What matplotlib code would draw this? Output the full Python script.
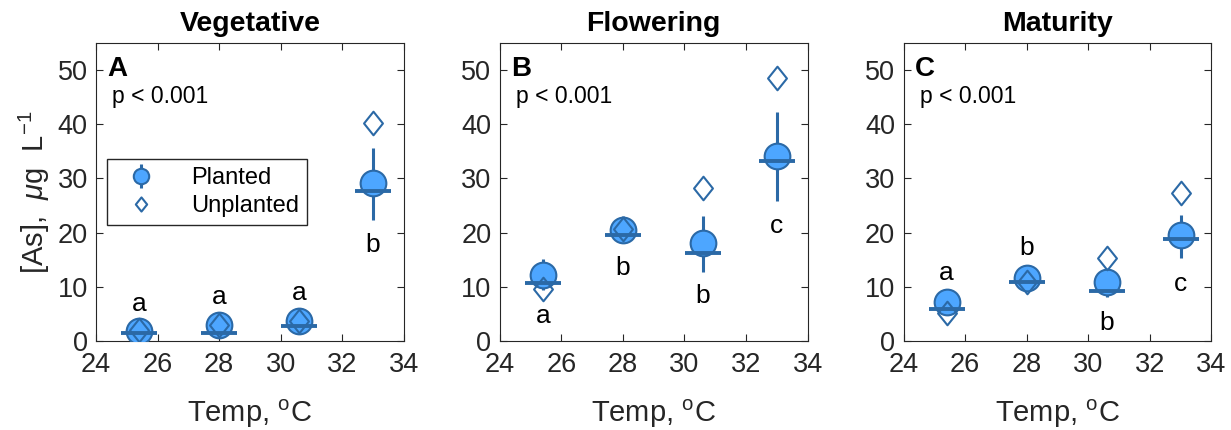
import numpy as np
import matplotlib
matplotlib.use("Agg")
import matplotlib.pyplot as plt
from matplotlib.path import Path

plt.rcParams["font.family"] = ["Liberation Sans", "DejaVu Sans"]
plt.rcParams["mathtext.fontset"] = "custom"
plt.rcParams["mathtext.rm"] = "Liberation Sans"
plt.rcParams["mathtext.it"] = "Liberation Sans:italic"

# temperatures (x positions)
temps = [25.4, 28.0, 30.6, 33.0]

titles = ["Vegetative", "Flowering", "Maturity"]
panel_tags = ["A", "B", "C"]

# planted means (circles), medians (horizontal bars), error ranges
planted_mean = [[1.8, 2.9, 3.7, 29.2],
                [12.1, 20.5, 18.0, 34.1],
                [7.2, 11.6, 10.8, 19.6]]
planted_median = [[1.4, 1.4, 2.8, 27.6],
                  [10.7, 19.5, 16.3, 33.2],
                  [5.9, 10.9, 9.3, 18.8]]
planted_lo = [[0.8, 1.6, 2.6, 22.4],
              [9.4, 18.0, 12.8, 25.8],
              [6.0, 9.5, 8.2, 15.4]]
planted_hi = [[3.0, 4.0, 4.9, 35.7],
              [15.1, 23.0, 23.0, 42.2],
              [8.5, 13.2, 12.3, 23.3]]

# unplanted values (diamonds)
unplanted = [[2.0, 2.9, 3.7, 40.2],
             [9.6, 20.6, 28.2, 48.5],
             [5.2, 10.9, 15.3, 27.4]]

# significance letters and their heights
letters = [["a", "a", "a", "b"],
           ["a", "b", "b", "c"],
           ["a", "b", "b", "c"]]
letter_y = [[6.9, 8.1, 8.9, 17.7],
            [4.6, 13.4, 8.3, 21.3],
            [12.6, 17.1, 3.3, 10.6]]

fill_c = "#4da6ff"
edge_c = "#2b69a6"
ax_c = "#262626"

diamond = Path([(0, -1), (0.8, 0), (0, 1), (-0.8, 0), (0, -1)],
               [Path.MOVETO, Path.LINETO, Path.LINETO, Path.LINETO, Path.CLOSEPOLY])

fig = plt.figure(figsize=(12.31, 4.30), dpi=100)
lefts = [0.078, 0.406, 0.734]

for i in range(3):
    ax = fig.add_axes([lefts[i], 0.207, 0.250, 0.693])
    mean = np.array(planted_mean[i])
    yerr = [mean - np.array(planted_lo[i]), np.array(planted_hi[i]) - mean]
    h1 = ax.errorbar(temps, mean, yerr=yerr, fmt="o", ms=18.5, mfc=fill_c, mec=edge_c,
                     mew=1.5, ecolor=edge_c, elinewidth=2.2, capsize=0, zorder=3)
    h2, = ax.plot(temps, unplanted[i], ls="none", marker=diamond, ms=17, mfc="none",
                  mec=edge_c, mew=1.5, zorder=4)
    ax.plot(temps, planted_median[i], ls="none", marker="_", ms=26, mew=2.8,
            color=edge_c, zorder=5)
    for x, y, s in zip(temps, letter_y[i], letters[i]):
        ax.text(x, y, s, ha="center", va="center", fontsize=19)

    ax.set_xlim(24, 34)
    ax.set_ylim(0, 55)
    ax.set_xticks([24, 26, 28, 30, 32, 34])
    ax.set_yticks([0, 10, 20, 30, 40, 50])
    ax.tick_params(direction="in", top=True, right=True, labelsize=19.5,
                   colors=ax_c, length=5, width=0.8)
    ax.tick_params(axis="x", pad=8)
    ax.tick_params(axis="y", pad=6)
    for sp in ax.spines.values():
        sp.set_color(ax_c)
        sp.set_linewidth(0.8)
    ax.set_title(titles[i], fontsize=20.5, fontweight="bold", pad=9)
    ax.set_xlabel("Temp, $^{\\rm o}$C", fontsize=21, color=ax_c, labelpad=14)
    ax.text(0.036, 0.955, panel_tags[i], transform=ax.transAxes, fontsize=20,
            fontweight="bold", va="top", ha="left")
    ax.text(0.052, 0.82, "p < 0.001", transform=ax.transAxes, fontsize=16.5,
            va="center", ha="left")
    if i == 0:
        ax.set_ylabel("[As],  $\\mu$g  L$^{-1}$", fontsize=21, color=ax_c, labelpad=4)
        ax.legend([h1, h2], ["Planted", "Unplanted"], loc="upper left",
                  bbox_to_anchor=(0.036, 0.611), borderaxespad=0, fontsize=17,
                  markerscale=0.6, frameon=True, fancybox=False, edgecolor=ax_c,
                  framealpha=1, handletextpad=1.0, borderpad=0.35,
                  labelspacing=0.25, handlelength=2.2)

fig.savefig("out.png", dpi=100)
